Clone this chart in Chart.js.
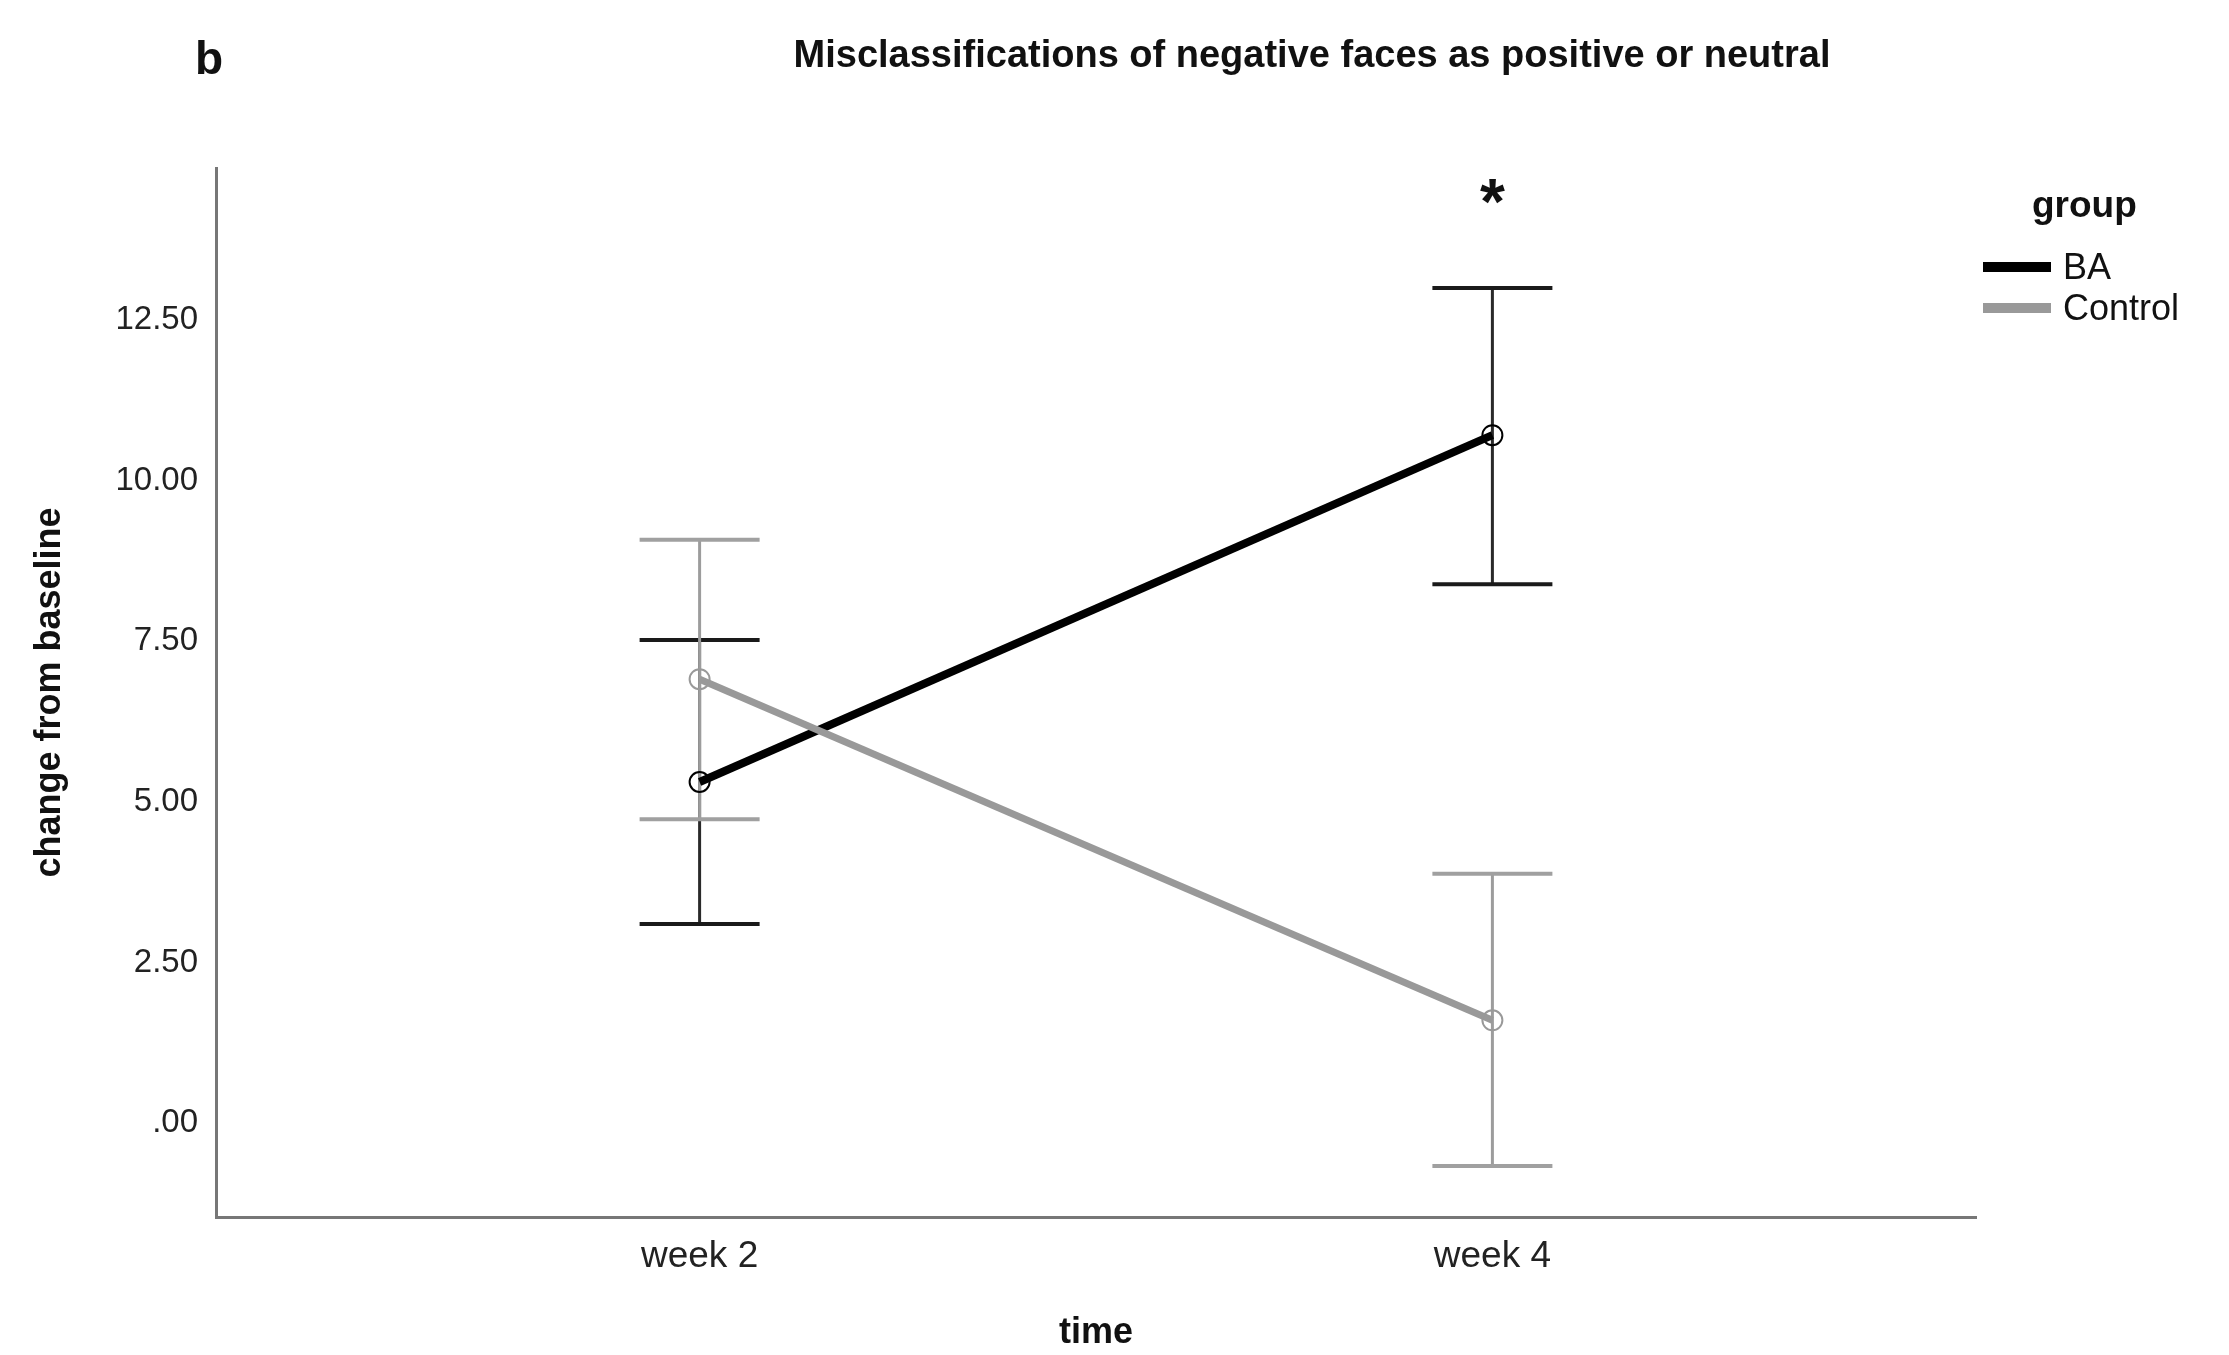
<!DOCTYPE html>
<html>
<head>
<meta charset="utf-8">
<script src="https://cdn.jsdelivr.net/npm/chart.js@4.4.1/dist/chart.umd.min.js"></script>
<style>
  body { margin: 0; background: #fff; }
  #wrap { width: 2229px; height: 1355px; }
</style>
</head>
<body>
<div id="wrap"><canvas id="chart" width="2229" height="1355"></canvas></div>
<script>
// start: Data
const categories = ["week 2", "week 4"];
const groupNames = ["BA", "Control"];
const baMean = [5.31, 10.71];
const baLower = [3.10, 8.39];
const baUpper = [7.52, 13.00];
const controlMean = [6.91, 1.60];
const controlLower = [4.73, -0.67];
const controlUpper = [9.08, 3.88];
const yTickValues = [0, 2.5, 5, 7.5, 10, 12.5];
const yTickLabels = [".00", "2.50", "5.00", "7.50", "10.00", "12.50"];
const significant = [false, true];
const starLevel = 14.0;
// end: Data

const FONT = "'Liberation Sans', Arial, Helvetica, sans-serif";
const BA_COLOR = "#000000";
const CONTROL_COLOR = "#999999";

function toPoints(values) {
  return values.map(function (v, i) {
    return { x: i + 1, y: v };
  });
}

// start: Error bars, annotations, legend
const extras = {
  id: "extras",
  beforeDatasetsDraw: function (chart) {
    const ctx = chart.ctx;
    const xs = chart.scales.x;
    const ys = chart.scales.y;
    const capHalf = 60;
    chart.data.datasets.forEach(function (ds) {
      ctx.save();
      ds.lower.forEach(function (lo, i) {
        const px = xs.getPixelForValue(i + 1);
        const top = ys.getPixelForValue(ds.upper[i]);
        const bot = ys.getPixelForValue(lo);
        ctx.strokeStyle = ds.errorStem;
        ctx.lineWidth = ds.stemWidth;
        ctx.beginPath();
        ctx.moveTo(px, top);
        ctx.lineTo(px, bot);
        ctx.stroke();
        ctx.strokeStyle = ds.errorCap;
        ctx.lineWidth = ds.capWidth;
        ctx.beginPath();
        ctx.moveTo(px - capHalf, top);
        ctx.lineTo(px + capHalf, top);
        ctx.moveTo(px - capHalf, bot);
        ctx.lineTo(px + capHalf, bot);
        ctx.stroke();
      });
      ctx.restore();
    });
  },
  afterDraw: function (chart) {
    const ctx = chart.ctx;
    const xs = chart.scales.x;
    const ys = chart.scales.y;
    ctx.save();
    ctx.fillStyle = "#111";

    // panel letter and title
    ctx.textBaseline = "alphabetic";
    ctx.textAlign = "left";
    ctx.font = "bold 46px " + FONT;
    ctx.fillText("b", 195, 74);
    ctx.textAlign = "center";
    ctx.font = "bold 38px " + FONT;
    ctx.fillText("Misclassifications of negative faces as positive or neutral", 1312, 67);

    // significance star
    ctx.font = "bold 64px " + FONT;
    significant.forEach(function (s, i) {
      if (s) ctx.fillText("*", xs.getPixelForValue(i + 1), ys.getPixelForValue(starLevel));
    });

    // legend
    ctx.textAlign = "left";
    ctx.font = "bold 37px " + FONT;
    ctx.fillText("group", 2032, 217);
    ctx.font = "36px " + FONT;
    chart.data.datasets.forEach(function (ds, i) {
      const ly = 267 + i * 41;
      ctx.strokeStyle = ds.borderColor;
      ctx.lineWidth = 10;
      ctx.beginPath();
      ctx.moveTo(1983, ly);
      ctx.lineTo(2051, ly);
      ctx.stroke();
      ctx.fillText(ds.label, 2063, ly + 12);
    });
    ctx.restore();
  },
};
// end: Error bars, annotations, legend

// start: Chart
new Chart(document.getElementById("chart"), {
  type: "line",
  data: {
    datasets: [
      {
        label: groupNames[0],
        data: toPoints(baMean),
        lower: baLower,
        upper: baUpper,
        borderColor: BA_COLOR,
        borderWidth: 8,
        pointRadius: 10,
        pointBorderWidth: 2,
        pointBorderColor: BA_COLOR,
        pointBackgroundColor: "rgba(0,0,0,0)",
        errorStem: "#2a2a2a",
        errorCap: "#1a1a1a",
        stemWidth: 3,
        capWidth: 4,
        order: 2,
      },
      {
        label: groupNames[1],
        data: toPoints(controlMean),
        lower: controlLower,
        upper: controlUpper,
        borderColor: CONTROL_COLOR,
        borderWidth: 7,
        pointRadius: 10,
        pointBorderWidth: 2,
        pointBorderColor: CONTROL_COLOR,
        pointBackgroundColor: "rgba(0,0,0,0)",
        errorStem: "#9c9c9c",
        errorCap: "#a0a0a0",
        stemWidth: 3,
        capWidth: 4,
        order: 1,
      },
    ],
  },
  options: {
    responsive: false,
    animation: false,
    layout: {
      padding: { left: 0, top: 168, right: 253, bottom: 0 },
    },
    plugins: {
      legend: { display: false },
      tooltip: { enabled: false },
    },
    scales: {
      x: {
        type: "linear",
        min: 0.39,
        max: 2.61,
        afterBuildTicks: function (scale) {
          scale.ticks = categories.map(function (c, i) {
            return { value: i + 1 };
          });
        },
        afterFit: function (scale) {
          scale.height = 138;
        },
        grid: { display: false, drawTicks: false },
        border: { color: "#777", width: 3 },
        ticks: {
          padding: 18,
          color: "#222",
          font: { family: FONT, size: 37 },
          callback: function (v) {
            return categories[Math.round(v) - 1];
          },
        },
        title: {
          display: true,
          text: "time",
          color: "#111",
          font: { family: FONT, size: 36, weight: "bold" },
          padding: { top: 0, bottom: 0 },
        },
      },
      y: {
        type: "linear",
        min: -1.463,
        max: 14.87,
        afterBuildTicks: function (scale) {
          scale.ticks = yTickValues.map(function (v) {
            return { value: v };
          });
        },
        afterFit: function (scale) {
          scale.width = 216;
        },
        grid: { display: false, drawTicks: false },
        border: { color: "#777", width: 3 },
        ticks: {
          padding: 18,
          color: "#222",
          font: { family: FONT, size: 33 },
          callback: function (v) {
            return yTickLabels[yTickValues.indexOf(v)];
          },
        },
        title: {
          display: true,
          text: "change from baseline",
          color: "#111",
          font: { family: FONT, size: 36, weight: "bold" },
          padding: { top: 28, bottom: 0 },
        },
      },
    },
  },
  plugins: [extras],
});
// end: Chart
</script>
</body>
</html>
